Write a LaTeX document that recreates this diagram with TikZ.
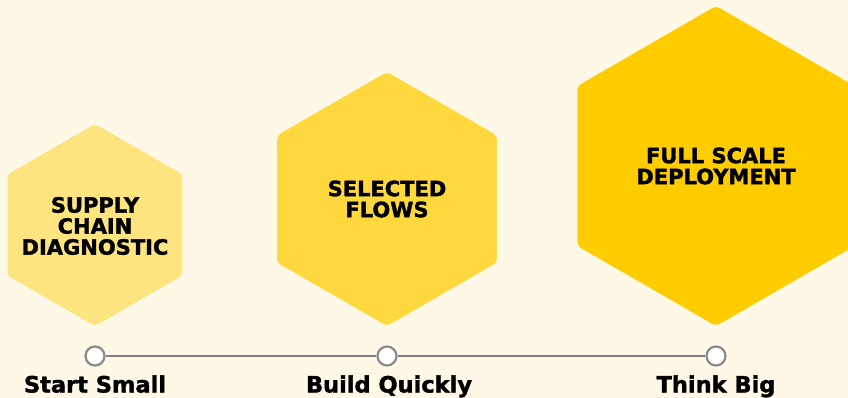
\documentclass[tikz,border=0pt]{standalone}
\usepackage{fontspec}
\setmainfont{DejaVu Sans}
\newfontfamily\heavyfont[FakeBold=1.6]{DejaVu Sans Bold}
\definecolor{bgc}{HTML}{FFF8E6}
\definecolor{hexa}{HTML}{FDE47E}
\definecolor{hexb}{HTML}{FFD83D}
\definecolor{hexc}{HTML}{FFCC00}
\definecolor{linec}{HTML}{808080}
\definecolor{ringc}{HTML}{8A8A8A}
\begin{document}
\begin{tikzpicture}[x=1pt,y=-1pt,
  hexlabel/.style={font=\heavyfont\fontsize{21}{21}\selectfont, align=center, text=black, inner sep=0pt},
  steplabel/.style={font=\heavyfont\fontsize{22.5}{24}\selectfont, text=black, inner sep=0pt, anchor=base},
  dot/.style={circle, draw=ringc, line width=2.2pt, fill=white, minimum size=19pt, inner sep=0pt},
  tl/.style={draw=linec, line width=1.4pt}]
\fill[bgc] (0,0) rectangle (848,398);
\useasboundingbox (0,0) rectangle (848,398);
% hexagons
\fill[hexa, rounded corners=4pt, shift={(95,225)}]
  (90:101) -- (30:101) -- (-30:101) -- (-90:101) -- (-150:101) -- (150:101) -- cycle;
\fill[hexb, rounded corners=4pt, shift={(387,199)}]
  (90:127) -- (30:127) -- (-30:127) -- (-90:127) -- (-150:127) -- (150:127) -- cycle;
\fill[hexc, rounded corners=4pt, shift={(716,166)}]
  (90:160) -- (30:160) -- (-30:160) -- (-90:160) -- (-150:160) -- (150:160) -- cycle;
\node[hexlabel] (h1) at (95,226) {SUPPLY\\CHAIN\\DIAGNOSTIC};
\node[hexlabel] (h2) at (387,199) {SELECTED\\FLOWS};
\node[hexlabel] (h3) at (716,166) {FULL SCALE\\DEPLOYMENT};
% timeline
\node[dot] (c1) at (95,356) {};
\node[dot] (c2) at (387,356) {};
\node[dot] (c3) at (716,356) {};
\draw[tl] (c1) -- (c2);
\draw[tl] (c2) -- (c3);
\node[steplabel] (s1) at (95,392.5) {Start Small};
\node[steplabel] (s2) at (389,392.5) {Build Quickly};
\node[steplabel] (s3) at (716,392.5) {Think Big};
\end{tikzpicture}
\end{document}
